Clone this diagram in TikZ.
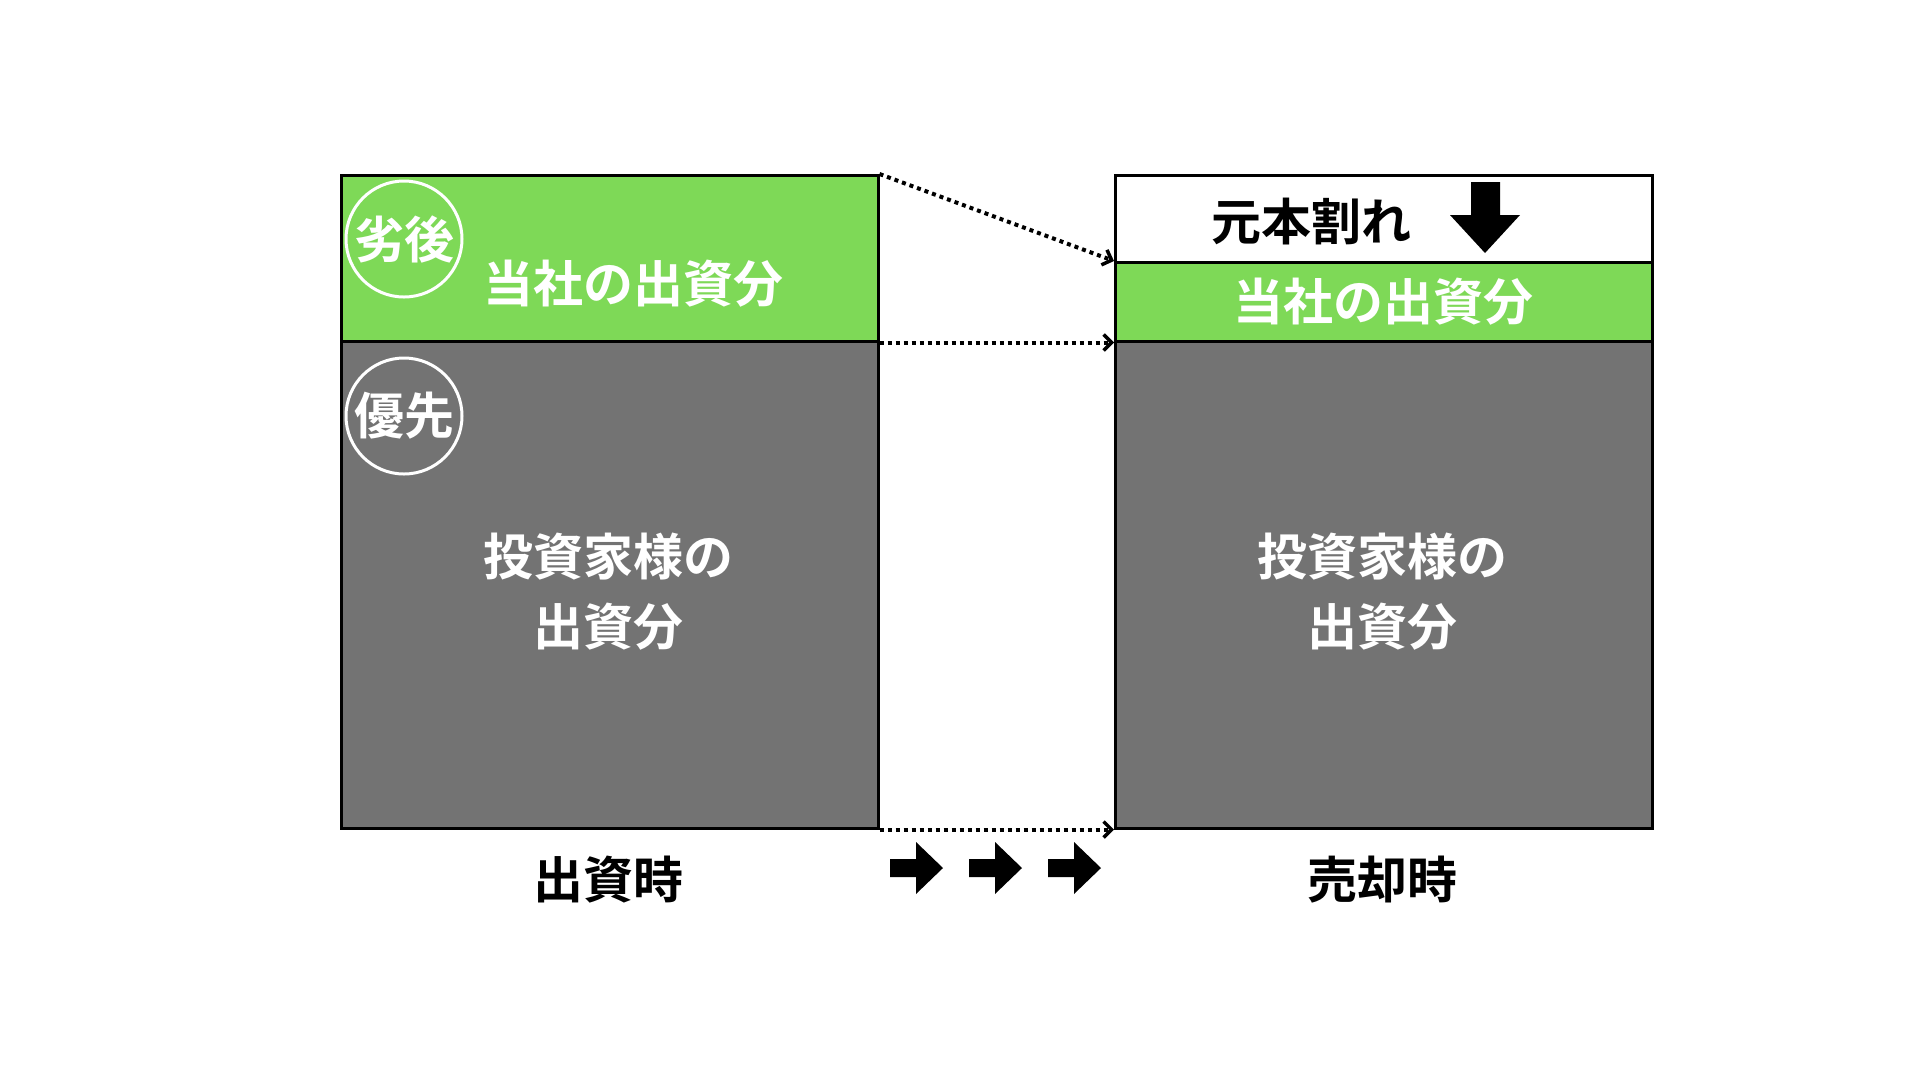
\documentclass[tikz,border=0pt]{standalone}
\usepackage{fontspec}
\setmainfont{Noto Sans CJK JP}[BoldFont={Noto Sans CJK JP Bold}]
\usetikzlibrary{arrows.meta}
\definecolor{grn}{HTML}{7ED957}
\definecolor{gry}{HTML}{737373}
\begin{document}
\begin{tikzpicture}[x=1pt,y=-1pt,
  box/.style={draw=black,line width=2.5pt,inner sep=0pt,anchor=north west},
  big/.style={font=\fontsize{50}{70}\selectfont\bfseries,align=center},
  badge/.style={circle,draw=white,line width=3pt,minimum size=116pt,inner sep=0pt,text=white,font=\fontsize{50}{54}\selectfont\bfseries},
  dots/.style={line width=4pt,dash pattern=on 4pt off 4pt,-{Straight Barb[length=8pt,width=16pt,line width=3.5pt]}},
  solidarrow/.style={fill=black,draw=none}]
\useasboundingbox[fill=white] (0,0) rectangle (1920,1080);
% left column
\node[box,fill=grn,minimum width=537pt,minimum height=166pt] (lg) at (340,174) {};
\node[box,fill=gry,minimum width=537pt,minimum height=487pt] (lb) at (340,340) {};
% right column
\node[box,fill=white,minimum width=537pt,minimum height=87pt] (rw) at (1114,174) {};
\node[box,fill=grn,minimum width=537pt,minimum height=79pt] (rg) at (1114,261) {};
\node[box,fill=gry,minimum width=537pt,minimum height=487pt] (rb) at (1114,340) {};
% badges
\node[badge] (b1) at (404,239) {劣後};
\node[badge] (b2) at (404,416) {優先};
% texts
\node[big,text=white] (t1) at (633,284) {当社の出資分};
\node[big,text=white] (t2) at (608,592) {投資家様の\\出資分};
\node[big,text=white] (t3) at (1383,302) {当社の出資分};
\node[big,text=white] (t4) at (1382,592) {投資家様の\\出資分};
\node[big,text=black] (t5) at (1311,222) {元本割れ};
\node[big,text=black] (t6) at (608,880) {出資時};
\node[big,text=black] (t7) at (1382,880) {売却時};
% dotted connectors
\draw[dots] (lg.north east) -- (rg.north west);
\draw[dots] (lg.south east) -- (rg.south west);
\draw[dots] (lb.south east) -- (rb.south west);
% down arrow
\fill[solidarrow] (1471,182) -- (1500,182) -- (1500,215) -- (1520,215) -- (1485,253) -- (1450,215) -- (1471,215) -- cycle;
% three right arrows
\foreach \x in {890,969,1048}{
  \fill[solidarrow] (\x,859) -- (\x+26,859) -- (\x+26,842) -- (\x+53,868) -- (\x+26,894) -- (\x+26,877) -- (\x,877) -- cycle;
}
\end{tikzpicture}
\end{document}
